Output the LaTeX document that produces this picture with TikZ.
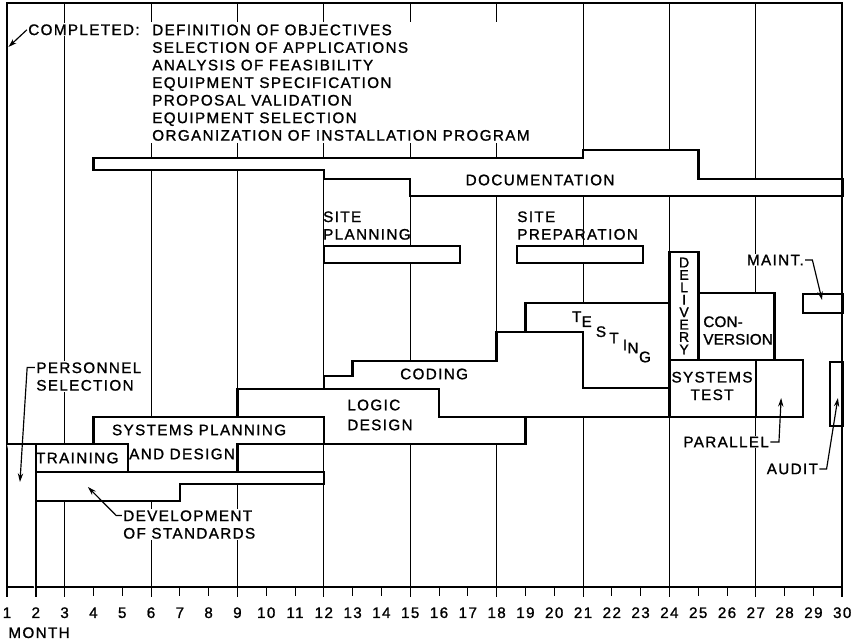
\documentclass[tikz,border=0pt]{standalone}
\usepackage{fontspec}
\setmainfont{Liberation Sans}[LetterSpace=9,FakeBold=1.2]
\usetikzlibrary{arrows.meta}

\begin{document}
\begin{tikzpicture}[
    x=0.864cm, y=-0.03cm,
    gridln/.style={line width=0.8pt},
    frame/.style={line width=1.3pt},
    bar/.style={draw,line width=2.2pt,fill=white},
    lbl/.style={font=\fontsize{13}{15}\selectfont,inner sep=1pt,align=left},
    lead/.style={line width=1pt,-{Stealth[length=2.6mm,width=1.6mm]}}
  ]
    \useasboundingbox (0.757,0) rectangle (30.618,642);
    % month grid and scale
    \foreach \m in {3,6,...,27} \draw[gridln] (\m,3) -- (\m,597);
    \draw[frame] (1,597) -- (1,3) -- (30,3) -- (30,597);
    \draw[frame] (1,587) -- (30,587);
    \foreach \m in {1,...,30} {
      \draw[gridln] (\m,587) -- (\m,596);
      \node[lbl,anchor=base] (ax\m) at (\m,618) {\m};
    }
    \node[lbl,anchor=base west] (month) at (1,638) {MONTH};

    % activities
    \draw[bar] (4,158) -- (21,158) -- (21,150) -- (25,150) -- (25,179) -- (30,179)
      -- (30,196) -- (15,196) -- (15,179) -- (12,179) -- (12,170) -- (4,170) -- cycle;
    \draw[bar] (12,246) rectangle (16.73,263);
    \draw[bar] (18.71,246) rectangle (23.08,263);
    \draw[bar] (1,444) -- (2,444) -- (2,597);
    \draw[bar] (2,444) rectangle (5.2,472);
    \draw[bar] (4,417) -- (12,417) -- (12,444) -- (9,444) -- (9,472) -- (5.2,472)
      -- (5.2,444) -- (4,444) -- cycle;
    \draw[bar] (2,472) -- (12,472) -- (12,484) -- (7,484) -- (7,501) -- (2,501) -- cycle;
    \draw[bar] (9,389) -- (16,389) -- (16,417) -- (19,417) -- (19,444) -- (12,444)
      -- (12,417) -- (9,417) -- cycle;
    \draw[bar] (12,376) -- (13,376) -- (13,361) -- (18,361) -- (18,332) -- (21,332)
      -- (21,388) -- (24,388) -- (24,417) -- (16,417) -- (16,389) -- (12,389) -- cycle;
    \draw[bar] (19,303) -- (24,303) -- (24,388) -- (21,388) -- (21,332) -- (19,332) -- cycle;
    \draw[bar] (24,360) rectangle (28.64,417);
    \draw[bar] (27,360) -- (27,417);
    \draw[bar] (24,252) rectangle (25,360);
    \draw[bar] (25,293) rectangle (27.65,360);
    \draw[bar] (28.64,294) rectangle (30,313);
    \draw[bar] (29.58,362) rectangle (30,426);

    % labels
    \node[lbl,anchor=north west,fill=white] (comp) at (1.69,23) {COMPLETED:};
    \node[lbl,anchor=north west,fill=white,inner sep=2pt] (done) at (5.955,22)
      {DEFINITION OF OBJECTIVES\\SELECTION OF APPLICATIONS\\ANALYSIS OF FEASIBILITY\\
       EQUIPMENT SPECIFICATION\\PROPOSAL VALIDATION\\EQUIPMENT SELECTION\\
       ORGANIZATION OF INSTALLATION PROGRAM};
    \node[lbl] (doc) at (19.51,180) {DOCUMENTATION};
    \node[lbl,anchor=north west] (sitepl) at (11.93,210) {SITE\\PLANNING};
    \node[lbl,anchor=north west] (siteprep) at (18.67,210) {SITE\\PREPARATION};
    \node[lbl,anchor=north west,fill=white] (pers) at (1.97,361) {PERSONNEL\\SELECTION};
    \node[lbl] (sysplan) at (7.67,430) {SYSTEMS PLANNING};
    \node[lbl] (anddes) at (7.08,454) {AND DESIGN};
    \node[lbl] (train) at (3.44,458) {TRAINING};
    \node[lbl,anchor=north west,fill=white] (std) at (4.99,509) {DEVELOPMENT\\OF STANDARDS};
    \node[lbl,font=\fontsize{13}{17}\selectfont] (logic) at (13.95,415) {LOGIC\\DESIGN};
    \node[lbl] (coding) at (15.83,374) {CODING};
    \foreach \ch/\px/\py [count=\i] in {T/576.7/316.7,E/586.7/321.7,S/601/331.7,
        T/614/338,I/625/345,N/633/348,G/645/357}
      \node[lbl] (tst\i) at ({1+(\px-7)/28.8},\py) {\ch};
    \node[lbl,align=center] (systest) at (25.48,386) {SYSTEMS\\TEST};
    \node[lbl,anchor=north west,font=\fontsize{13}{15}\selectfont\addfontfeatures{LetterSpace=1}]
      (conv) at (25.13,315) {CON-\\VERSION};
    \node[lbl,align=center,font=\fontsize{12}{10.6}\selectfont] (deliv) at (24.51,306)
      {D\\E\\L\\I\\V\\E\\R\\Y};
    \node[lbl,fill=white] (par) at (25.97,442) {PARALLEL};
    \node[lbl,fill=white] (maint) at (27.68,260) {MAINT.};
    \node[lbl,fill=white] (audit) at (28.27,469) {AUDIT};

    % leaders
    \coordinate (tcomp) at (1.05,47);
    \coordinate (tpers) at (1.45,482);
    \coordinate (tstd) at (3.81,487);
    \coordinate (tpar) at (27.88,398);
    \coordinate (tmaint) at (29.30,300);
    \coordinate (taudit) at (29.85,398);
    \draw[lead] (comp.west) -- (tcomp);
    \draw[lead] (pers.north west) ++(0,6.5) -- ++(-0.27,0) -- (tpers);
    \draw[lead] (std.north west) ++(0,6.5) -- ++(-0.2,0) -- (tstd);
    \draw[lead] (par.east) -- ++(0.3,0) -- (tpar);
    \draw[lead] (maint.east) -- ++(0.25,0) -- (tmaint);
    \draw[lead] (audit.east) -- ++(0.25,0) -- (taudit);
  \end{tikzpicture}
\end{document}
